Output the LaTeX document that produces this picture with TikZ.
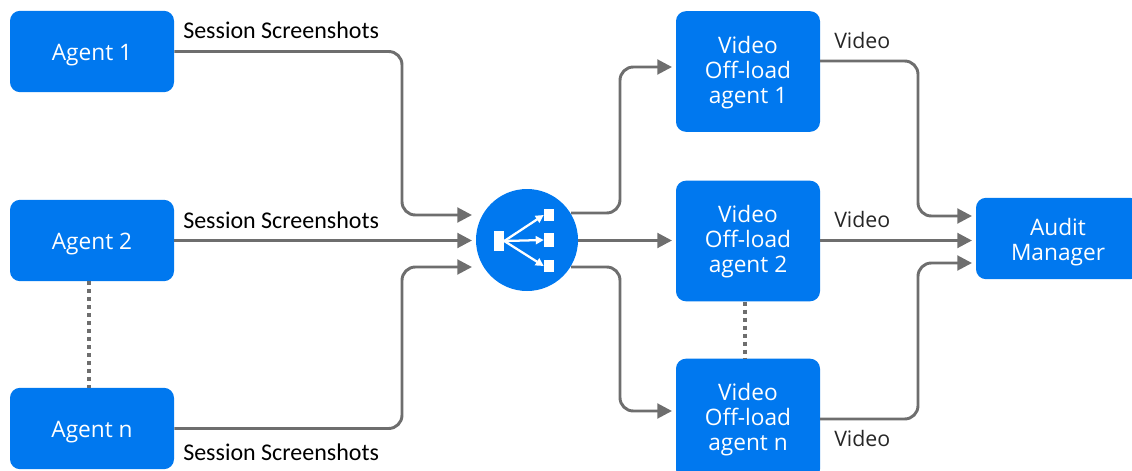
\documentclass[tikz,border=0pt]{standalone}
\usepackage{fontspec}
\setmainfont{Open Sans}
\newfontfamily\labelfont{Carlito}
\usetikzlibrary{arrows.meta,calc}
\definecolor{boxblue}{HTML}{0078EF}
\definecolor{linegray}{HTML}{6E6E6E}
\newcommand\topstrut[1]{\rule{0pt}{#1}}
\tikzset{
  x=0.75pt,y=-0.75pt,
  agentbox/.style={draw=none,fill=boxblue,rounded corners=7.5pt,minimum width=123pt,minimum height=61pt,inner sep=0pt,text=white,font=\fontsize{17}{18.75}\selectfont,align=center},
  videobox/.style={agentbox,minimum width=108pt,minimum height=90.5pt},
  conn/.style={draw=linegray,line width=2.2pt,rounded corners=10pt,-{Triangle[length=11pt,width=11pt]}},
  dots/.style={draw=linegray,line width=3pt,dash pattern=on 3pt off 3pt},
  seslabel/.style={anchor=west,inner sep=0pt,text=black,font=\labelfont\fontsize{18}{18}\selectfont},
  vidlabel/.style={anchor=west,inner sep=0pt,text=black!85,font=\fontsize{16}{16}\selectfont},
  iconbox/.style={fill=white,draw=none,inner sep=0pt},
  iconarrow/.style={draw=white,line width=1.7pt,-{Triangle[length=6pt,width=6pt]}},
}
\begin{document}
\begin{tikzpicture}
\useasboundingbox (0,0) rectangle (1132,471);
\clip (0,0) rectangle (1132,471);
\node[agentbox] (a1) at (92,51.5) {\topstrut{17pt}Agent 1};
\node[agentbox] (a2) at (92,240.5) {\topstrut{17pt}Agent 2};
\node[agentbox] (an) at (92,428.5) {\topstrut{17pt}Agent n};
\node[videobox] (v1) at (748,71.5) {\topstrut{14.5pt}Video\\Off-load\\agent 1};
\node[videobox] (v2) at (748,241) {\topstrut{14.5pt}Video\\Off-load\\agent 2};
\node[videobox] (vn) at (748,419) {\topstrut{14.5pt}Video\\Off-load\\agent n};
\node[agentbox] (am) at (1058,238.5) {\topstrut{19pt}Audit\\Manager};
\node[circle,fill=boxblue,draw=none,minimum size=76.5pt,inner sep=0pt] (hub) at (527,240) {};
% hub icon
\node[iconbox,minimum width=7.5pt,minimum height=15pt] (src) at (499,241) {};
\node[iconbox,minimum width=7.5pt,minimum height=9pt] (d1) at (549,215) {};
\node[iconbox,minimum width=7.5pt,minimum height=10pt] (d2) at (549,240) {};
\node[iconbox,minimum width=7.5pt,minimum height=9.5pt] (d3) at (549,266) {};
\draw[iconarrow] (src.east) -- (d1.west);
\draw[iconarrow] (src.east) -- (d2.west);
\draw[iconarrow] (src.east) -- (d3.west);
% anchors
\coordinate (h1) at (472,215);
\coordinate (h2) at (472,240.5);
\coordinate (h3) at (472,267);
\coordinate (o1) at (571,213);
\coordinate (o3) at (571,267);
\coordinate (t1) at (672,67);
\coordinate (t2) at (672,240.5);
\coordinate (t3) at (672,411);
\coordinate (s1) at (820,61);
\coordinate (s3) at (820,419);
\coordinate (m1) at (972,216);
\coordinate (m2) at (972,240.5);
\coordinate (m3) at (972,263);
% connectors
\draw[conn] (a1.east) -- (402,51.5) -- (402,215) -- (h1);
\draw[conn] (a2.east) -- (h2);
\draw[conn] (an.east) -- (402,428.5) -- (402,267) -- (h3);
\draw[conn] (o1) -- (620,213) -- (620,67) -- (t1);
\draw[conn] (hub.east |- t2) -- (t2);
\draw[conn] (o3) -- (620,267) -- (620,411) -- (t3);
\draw[conn] (s1) -- (918,61) -- (918,216) -- (m1);
\draw[conn] (v2.east |- m2) -- (m2);
\draw[conn] (s3) -- (918,419) -- (918,263) -- (m3);
\draw[dots] (a2.south -| 89,0) -- (an.north -| 89,0);
\draw[dots] (v2.south -| 745,0) -- (vn.north -| 745,0);
% labels
\node[seslabel] (l1) at (183,30) {Session Screenshots};
\node[seslabel] (l2) at (183,220) {Session Screenshots};
\node[seslabel] (l3) at (183,452) {Session Screenshots};
\node[vidlabel] (l4) at (834,40) {Video};
\node[vidlabel] (l5) at (834,219) {Video};
\node[vidlabel] (l6) at (834,438) {Video};
\end{tikzpicture}
\end{document}
